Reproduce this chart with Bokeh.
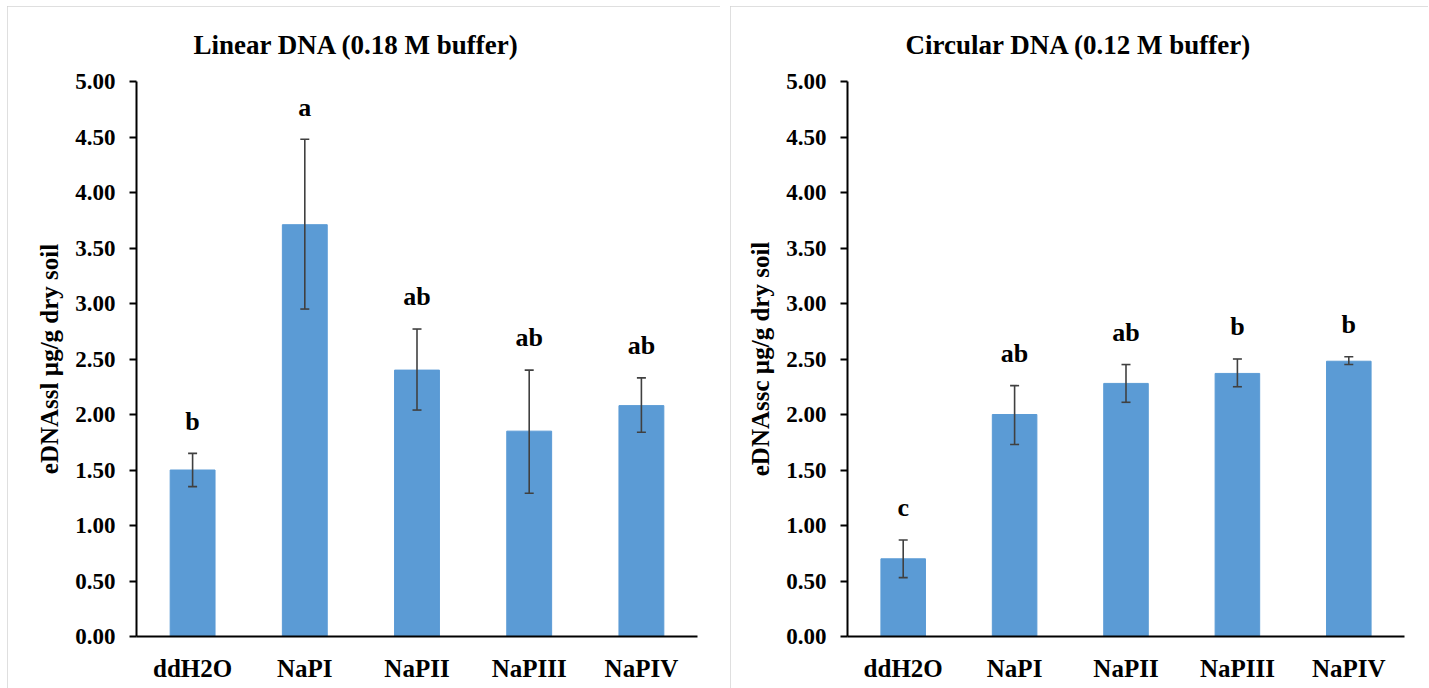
from bokeh.plotting import figure
from bokeh.models import (Range1d, ColumnDataSource, Whisker, TeeHead,
                          FixedTicker, NumeralTickFormatter, Spacer)
from bokeh.layouts import row, column
from bokeh.core.properties import value
from bokeh.embed import file_html
from bokeh.resources import INLINE

categories = ["ddH2O", "NaPI", "NaPII", "NaPIII", "NaPIV"]

linear_mean = [1.50, 3.71, 2.40, 1.85, 2.08]
linear_lower = [1.35, 2.95, 2.04, 1.29, 1.84]
linear_upper = [1.65, 4.48, 2.77, 2.40, 2.33]
linear_letters = ["b", "a", "ab", "ab", "ab"]

circular_mean = [0.70, 2.00, 2.28, 2.37, 2.48]
circular_lower = [0.53, 1.73, 2.11, 2.25, 2.45]
circular_upper = [0.87, 2.26, 2.45, 2.50, 2.52]
circular_letters = ["c", "ab", "ab", "b", "b"]

y_ticks = [0.0, 0.5, 1.0, 1.5, 2.0, 2.5, 3.0, 3.5, 4.0, 4.5, 5.0]

FONT = "Liberation Serif"
BAR = "#5b9bd5"
ERR = "#404040"


def make_panel(title, ylabel, means, lowers, uppers, letters,
               width, border_left, border_right, title_offset):
    src = ColumnDataSource(dict(
        cat=categories, mean=means, lower=lowers, upper=uppers,
        letter=letters, label_y=[u + 0.29 for u in uppers]))
    p = figure(width=width, height=682, x_range=categories,
               y_range=Range1d(0, 5), output_backend="svg",
               toolbar_location=None,
               min_border_left=border_left, min_border_right=border_right,
               min_border_top=75, min_border_bottom=52,
               outline_line_color=None,
               background_fill_color="white", border_fill_color="white")
    p.styles = {"outline": "1px solid #d4d4d4", "outline-offset": "-1px"}
    p.xgrid.grid_line_color = None
    p.ygrid.grid_line_color = None

    p.title.text = title
    p.title.align = "left"
    p.title.vertical_align = "top"
    p.title.offset = title_offset
    p.title.standoff = 40
    p.title.text_font = FONT
    p.title.text_font_style = "bold"
    p.title.text_font_size = "27px"
    p.title.text_color = "black"

    p.vbar(x="cat", top="mean", bottom=0, width=0.4, source=src,
           fill_color=BAR, line_color=BAR)

    p.add_layout(Whisker(source=src, base="cat", upper="upper", lower="lower",
                         dimension="height", line_color=ERR, line_width=1.6,
                         level="overlay",
                         upper_head=TeeHead(size=9, line_color=ERR, line_width=1.6),
                         lower_head=TeeHead(size=9, line_color=ERR, line_width=1.6)))

    p.text(x="cat", y="label_y", text="letter", source=src,
           text_align="center", text_baseline="alphabetic",
           text_font=value(FONT), text_font_style="bold", text_font_size="26px",
           text_color="black")

    ya = p.yaxis[0]
    ya.ticker = FixedTicker(ticks=y_ticks)
    ya.formatter = NumeralTickFormatter(format="0.00")
    ya.axis_line_color = "black"
    ya.axis_line_width = 2
    ya.major_tick_line_color = "black"
    ya.major_tick_line_width = 2
    ya.major_tick_out = 7
    ya.major_tick_in = 0
    ya.minor_tick_out = 0
    ya.minor_tick_in = 0
    ya.major_label_standoff = 14
    ya.major_label_text_font = FONT
    ya.major_label_text_font_style = "bold"
    ya.major_label_text_font_size = "23px"
    ya.major_label_text_color = "black"
    ya.axis_label = ylabel
    ya.axis_label_text_font = FONT
    ya.axis_label_text_font_style = "bold"
    ya.axis_label_text_font_size = "25px"
    ya.axis_label_text_color = "black"
    ya.axis_label_standoff = 9

    xa = p.xaxis[0]
    xa.axis_line_color = "black"
    xa.axis_line_width = 2
    xa.major_tick_out = 0
    xa.major_tick_in = 0
    xa.minor_tick_out = 0
    xa.major_label_standoff = 18
    xa.major_label_text_font = FONT
    xa.major_label_text_font_style = "bold"
    xa.major_label_text_font_size = "25px"
    xa.major_label_text_color = "black"
    xa.major_label_orientation = "horizontal"
    return p


p1 = make_panel("Linear DNA (0.18 M buffer)", "eDNAssl µg/g dry soil",
                linear_mean, linear_lower, linear_upper, linear_letters,
                713, 129, 23, 57)
p2 = make_panel("Circular DNA (0.12 M buffer)", "eDNAssc µg/g dry soil",
                circular_mean, circular_lower, circular_upper, circular_letters,
                698, 117, 24, 58)

layout = column(Spacer(height=6),
                row(Spacer(width=7), p1, Spacer(width=10), p2, spacing=0),
                spacing=0)

open("out.html", "w").write(file_html(layout, INLINE))
